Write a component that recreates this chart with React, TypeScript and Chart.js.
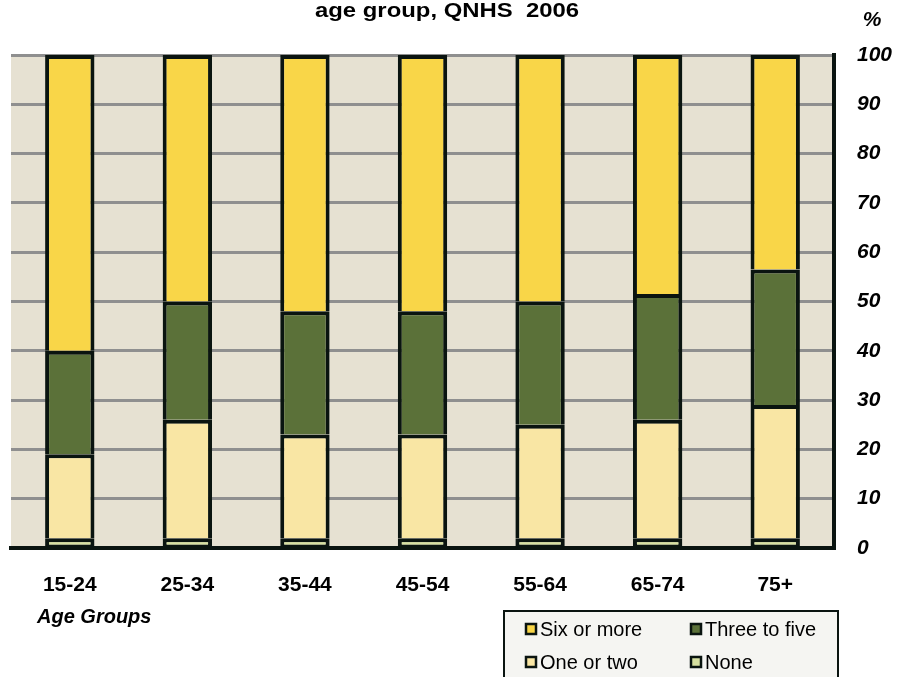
import React, { useEffect, useRef } from "react";
import { Chart, registerables } from "chart.js";

Chart.register(...registerables);

const categories = ["15-24", "25-34", "35-44", "45-54", "55-64", "65-74", "75+"];
const noneValues = [2, 2, 2, 2, 2, 2, 2];
const oneOrTwo = [17, 24, 21, 21, 23, 24, 27];
const threeToFive = [21, 24, 25, 25, 25, 25.5, 27.5];
const sixOrMore = [60, 50, 52, 52, 50, 48.5, 43.5];
const yTicks = [0, 10, 20, 30, 40, 50, 60, 70, 80, 90, 100];

const FONT = "'Liberation Sans', Arial, Helvetica, sans-serif";
const BLACK = "#0a1410";

const seriesColors = {
  none: "#d6e0a0",
  one: "#f9e6a4",
  three: "#5b7139",
  six: "#f9d648",
};

export default function App() {
  const canvasRef = useRef<HTMLCanvasElement | null>(null);

  useEffect(() => {
    document.body.style.margin = "0";
    const canvas = canvasRef.current;
    if (!canvas) return;

    const bgPlugin = {
      id: "plotBg",
      beforeDraw(chart: any) {
        const { ctx, chartArea } = chart;
        ctx.save();
        ctx.fillStyle = "#ffffff";
        ctx.fillRect(0, 0, chart.width, chart.height);
        ctx.fillStyle = "#e6e1d2";
        ctx.fillRect(chartArea.left, chartArea.top, chartArea.right - chartArea.left, chartArea.bottom - chartArea.top);
        ctx.restore();
      },
    };

    const decoPlugin = {
      id: "deco",
      afterDraw(chart: any) {
        const { ctx } = chart;
        ctx.save();
        // Title (horizontally stretched as in the reference)
        const title = "age group, QNHS  2006";
        ctx.font = `bold 21px ${FONT}`;
        ctx.fillStyle = "#000";
        ctx.textBaseline = "alphabetic";
        ctx.textAlign = "center";
        const w = ctx.measureText(title).width;
        const sx = 264 / w;
        ctx.save();
        ctx.translate(447, 17);
        ctx.scale(sx, 1);
        ctx.fillText(title, 0, 0);
        ctx.restore();

        // % unit label
        ctx.font = `italic bold 21px ${FONT}`;
        ctx.textAlign = "center";
        ctx.fillText("%", 872, 26);

        // Axis title
        ctx.font = `italic bold 20px ${FONT}`;
        ctx.textAlign = "left";
        ctx.fillText("Age Groups", 37, 623);

        // Legend box
        const bx = 504, by = 611, bw = 334, bh = 80;
        ctx.fillStyle = "#f5f5f2";
        ctx.fillRect(bx, by, bw, bh);
        ctx.strokeStyle = BLACK;
        ctx.lineWidth = 2;
        ctx.strokeRect(bx, by, bw, bh);

        const ds = chart.data.datasets;
        const order = [3, 2, 1, 0];
        const cols = [526, 691];
        const rows = [629, 662];
        ctx.font = `20px ${FONT}`;
        ctx.textBaseline = "middle";
        order.forEach((di, i) => {
          const x = cols[i % 2];
          const y = rows[Math.floor(i / 2)];
          ctx.fillStyle = ds[di].backgroundColor;
          ctx.fillRect(x, y - 5, 10, 10);
          ctx.strokeStyle = BLACK;
          ctx.lineWidth = 2.5;
          ctx.strokeRect(x, y - 5, 10, 10);
          ctx.fillStyle = "#000";
          ctx.fillText(ds[di].label, x + 14, y + 1);
        });
        ctx.restore();
      },
    };

    const segBorder = { top: 4, left: 4, right: 4, bottom: 0 };

    const chart = new Chart(canvas, {
      type: "bar",
      data: {
        labels: categories,
        datasets: [
          { label: "None", data: noneValues, backgroundColor: seriesColors.none, borderColor: BLACK, borderWidth: { top: 4, left: 4, right: 4, bottom: 2 } as any, borderSkipped: false },
          { label: "One or two", data: oneOrTwo, backgroundColor: seriesColors.one, borderColor: BLACK, borderWidth: segBorder as any, borderSkipped: false },
          { label: "Three to five", data: threeToFive, backgroundColor: seriesColors.three, borderColor: BLACK, borderWidth: segBorder as any, borderSkipped: false },
          { label: "Six or more", data: sixOrMore, backgroundColor: seriesColors.six, borderColor: BLACK, borderWidth: segBorder as any, borderSkipped: false },
        ],
      },
      options: {
        animation: false,
        responsive: false,
        maintainAspectRatio: false,
        layout: { padding: { left: 11, top: 55, right: 0, bottom: 0 } },
        plugins: {
          legend: { display: false },
          title: { display: false },
          tooltip: { enabled: false },
        },
        datasets: { bar: { categoryPercentage: 1, barPercentage: 0.42 } },
        scales: {
          x: {
            stacked: true,
            grid: { display: false, drawTicks: false },
            border: { display: true, color: BLACK, width: 4 },
            ticks: {
              color: "#000",
              font: { family: FONT, size: 21, weight: "bold" },
              padding: 25,
              maxRotation: 0,
              autoSkip: false,
            },
            afterFit(scale: any) {
              scale.height = 677 - 548;
            },
          },
          y: {
            stacked: true,
            position: "right",
            min: 0,
            max: 100,
            afterBuildTicks(scale: any) {
              scale.ticks = yTicks.map((v) => ({ value: v }));
            },
            grid: { color: "#8f8f8f", lineWidth: 3, drawTicks: false },
            border: { display: true, color: BLACK, width: 4 },
            ticks: {
              color: "#000",
              font: { family: FONT, size: 21, weight: "bold", style: "italic" },
              padding: 23,
            },
            afterFit(scale: any) {
              scale.width = 897 - 834;
            },
          },
        },
      },
      plugins: [bgPlugin, decoPlugin],
    });

    return () => chart.destroy();
  }, []);

  return (
    <div style={{ width: 897, height: 677, position: "relative" }}>
      <canvas ref={canvasRef} width={897} height={677} style={{ display: "block", width: 897, height: 677 }} />
    </div>
  );
}
